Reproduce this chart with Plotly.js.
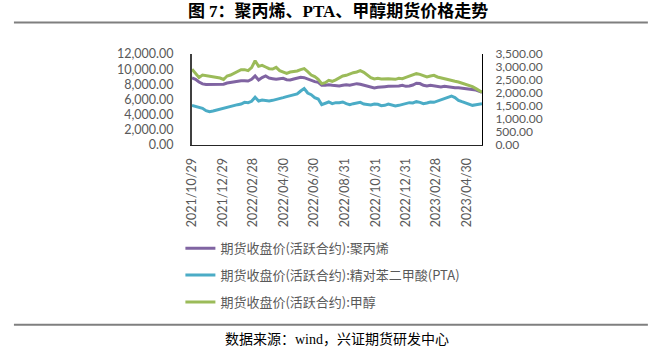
<!DOCTYPE html>
<html>
<head>
<meta charset="utf-8">
<script src="https://cdn.plot.ly/plotly-3.0.1.min.js"></script>
<style>html,body{margin:0;padding:0;background:#fff;}#chart{width:663px;height:352px;}</style>
</head>
<body>
<div id="chart"></div>
<script>
const dates = [
'2021-10-29','2021-11-05','2021-11-12','2021-11-19','2021-11-26','2021-12-03','2021-12-10','2021-12-17','2021-12-24','2021-12-31',
'2022-01-07','2022-01-14','2022-01-21','2022-01-28','2022-02-04','2022-02-11','2022-02-18','2022-02-25','2022-03-04','2022-03-11',
'2022-03-18','2022-03-25','2022-04-01','2022-04-08','2022-04-15','2022-04-22','2022-04-29','2022-05-06','2022-05-13','2022-05-20',
'2022-05-27','2022-06-03','2022-06-10','2022-06-17','2022-06-24','2022-07-01','2022-07-08','2022-07-15','2022-07-22','2022-07-29',
'2022-08-05','2022-08-12','2022-08-19','2022-08-26','2022-09-02','2022-09-09','2022-09-16','2022-09-23','2022-09-30','2022-10-07',
'2022-10-14','2022-10-21','2022-10-28','2022-11-04','2022-11-11','2022-11-18','2022-11-25','2022-12-02','2022-12-09','2022-12-16',
'2022-12-23','2022-12-30','2023-01-06','2023-01-13','2023-01-20','2023-01-27','2023-02-03','2023-02-10','2023-02-17','2023-02-24',
'2023-03-03','2023-03-10','2023-03-17','2023-03-24','2023-03-31','2023-04-07','2023-04-14','2023-04-21','2023-04-28','2023-05-05',
'2023-05-12','2023-05-19','2023-05-26','2023-05-31'
];

// 聚丙烯 (left axis)
const ppValues = [
8836,8660,8308,8060,7990,8010,7950,8030,8070,8020,
8177,8264,8352,8352,8484,8484,8440,8660,9100,8572,
8900,9100,8836,8748,8660,8748,8792,8616,8572,8704,
8792,8924,8880,8704,8484,8352,8264,7869,7869,7957,
7869,7781,7781,7869,7957,7869,7957,8089,8001,7869,
7781,7605,7517,7605,7693,7693,7737,7737,7825,7781,
7869,7737,7781,7913,8150,8100,7869,7781,7869,7781,
7737,7649,7737,7649,7649,7561,7561,7517,7473,7429,
7385,7253,7078,6946
];

// 精对苯二甲酸 PTA (left axis)
const ptaValues = [
5231,5099,4967,4836,4528,4396,4484,4616,4704,4836,
4967,5099,5231,5319,5407,5627,5583,5759,6300,5803,
5935,5891,5803,5891,5979,6110,6242,6374,6506,6594,
6726,7122,7450,6858,6638,6242,6066,5319,5451,5671,
5451,5583,5583,5671,5451,5319,5451,5583,5627,5407,
5319,5275,5407,5363,5187,5231,5407,5319,5143,5231,
5363,5451,5583,5539,5715,5627,5451,5539,5671,5627,
5803,5935,6154,6374,6462,6242,5891,5715,5539,5363,
5231,5319,5407,5451
];

// 甲醇 (right axis)
const meohValues = [
2911,2769,2600,2693,2667,2654,2641,2603,2577,2520,
2654,2693,2769,2834,2898,2898,2859,2975,3240,3026,
3064,3000,2936,2923,2988,2859,2795,2757,2808,2821,
2846,2898,2936,2821,2693,2629,2526,2360,2398,2487,
2450,2508,2567,2654,2680,2744,2782,2808,2859,2795,
2680,2590,2539,2564,2539,2552,2552,2539,2526,2564,
2552,2603,2654,2706,2744,2718,2654,2616,2654,2680,
2616,2577,2552,2526,2487,2449,2423,2385,2334,2282,
2244,2167,2077,2026
];

const seriesNames = [
'期货收盘价(活跃合约):聚丙烯',
'期货收盘价(活跃合约):精对苯二甲酸(PTA)',
'期货收盘价(活跃合约):甲醇'
];
const seriesColors = ['#8064A2', '#4BACC6', '#9BBB59'];

const xTickVals = ['2021-10-29','2021-12-29','2022-02-28','2022-04-30','2022-06-30','2022-08-31','2022-10-31','2022-12-31','2023-02-28','2023-04-30'];
const xTickText = ['2021/10/29','2021/12/29','2022/02/28','2022/04/30','2022/06/30','2022/08/31','2022/10/31','2022/12/31','2023/02/28','2023/04/30'];

const titleText = '图 7：聚丙烯、PTA、甲醇期货价格走势';
const sourceText = '数据来源：wind，兴证期货研发中心';

const traces = [
  {x: dates, y: ppValues, name: seriesNames[0], yaxis: 'y', legendgroup: 'a'},
  {x: dates, y: ptaValues, name: seriesNames[1], yaxis: 'y', legendgroup: 'b'},
  {x: dates, y: meohValues, name: seriesNames[2], yaxis: 'y2', legendgroup: 'c'}
].map((t, i) => Object.assign(t, {
  type: 'scatter', mode: 'lines',
  line: {color: seriesColors[i], width: 3}
}));

const tickFont = {family: 'Lato, "Open Sans", sans-serif', size: 12.5, color: '#595959'};
const rightTickFont = {family: 'Lato, "Open Sans", sans-serif', size: 12, color: '#595959'};

const layout = {
  width: 663, height: 352,
  margin: {l: 192, r: 181, t: 54, b: 207},
  paper_bgcolor: '#fff', plot_bgcolor: '#fff',
  title: {
    text: '<b>' + titleText + '</b>',
    font: {family: '"Liberation Serif", "Noto Sans CJK SC", serif', size: 17, color: '#000'},
    x: 0.51, xref: 'container', xanchor: 'center',
    y: 0.968, yref: 'container', yanchor: 'middle'
  },
  showlegend: true,
  legend: {
    orientation: 'v', traceorder: 'grouped', tracegroupgap: 7,
    x: -0.04, xanchor: 'left', y: -0.97, yanchor: 'top',
    bgcolor: 'rgba(0,0,0,0)',
    font: {family: '"Noto Sans CJK SC", sans-serif', size: 13, color: '#595959'}
  },
  xaxis: {
    type: 'date', range: [dates[0], dates[dates.length - 1]],
    tickmode: 'array', tickvals: xTickVals, ticktext: xTickText,
    tickangle: -90, tickfont: tickFont, ticks: '', ticklabelstandoff: 7,
    showline: true, linecolor: '#262626', linewidth: 1,
    showgrid: false, zeroline: false
  },
  yaxis: {
    range: [0, 12000], dtick: 2000, tick0: 0, tickformat: ',.2f',
    tickfont: tickFont, ticks: '', ticklabelstandoff: 14,
    showline: true, linecolor: '#404040', linewidth: 2,
    showgrid: false, zeroline: false
  },
  yaxis2: {
    overlaying: 'y', side: 'right',
    range: [0, 3500], dtick: 500, tick0: 0, tickformat: ',.2f',
    tickfont: rightTickFont, ticks: '', ticklabelstandoff: 10,
    showline: true, linecolor: '#000', linewidth: 1,
    showgrid: false, zeroline: false
  },
  shapes: [
    {type: 'line', xref: 'paper', yref: 'paper', x0: -0.614, x1: 1.572, y0: 1.345, y1: 1.345, line: {color: '#7f7f7f', width: 2}},
    {type: 'line', xref: 'paper', yref: 'paper', x0: -0.614, x1: 1.572, y0: -1.975, y1: -1.975, line: {color: '#7f7f7f', width: 2}}
  ],
  annotations: [
    {text: sourceText, xref: 'paper', yref: 'paper', x: 0.5, y: -2.13, xanchor: 'center', yanchor: 'middle', showarrow: false,
     font: {family: '"Liberation Serif", "Noto Sans CJK SC", serif', size: 14, color: '#000'}}
  ]
};

Plotly.newPlot('chart', traces, layout, {staticPlot: true, displayModeBar: false});
</script>
</body>
</html>
